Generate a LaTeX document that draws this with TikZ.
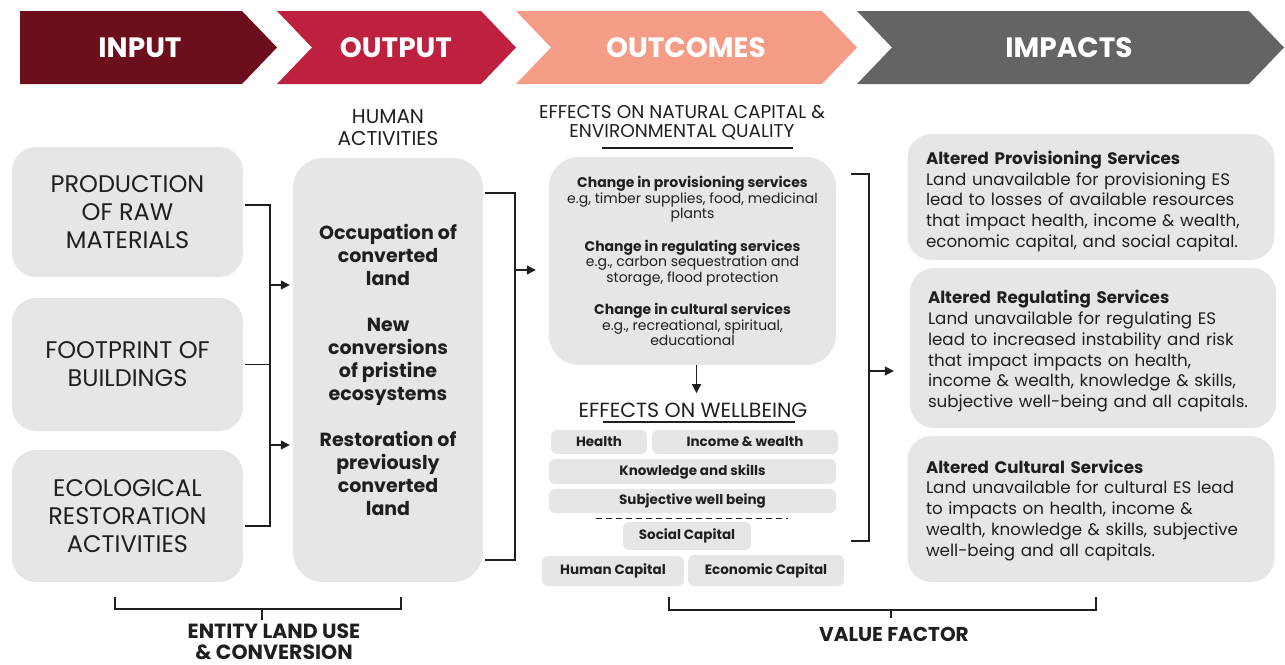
\documentclass[tikz,border=0pt]{standalone}
\usepackage{fontspec}
\setmainfont{Poppins}
\usetikzlibrary{arrows.meta}

\definecolor{inputred}{HTML}{6D0E1C}
\definecolor{outputred}{HTML}{BE2040}
\definecolor{outcomesalmon}{HTML}{F59C86}
\definecolor{impactgrey}{HTML}{636466}
\definecolor{panelgrey}{HTML}{E6E6E6}
\definecolor{ink}{HTML}{1F1F1F}

\tikzset{
    panel/.style={fill=panelgrey, rounded corners=24pt, inner sep=0pt,
        align=center, text=ink},
    impactpanel/.style={panel, text width=330pt, align=left,
        font=\fontsize{16.7}{20.8}\selectfont},
    tag/.style={fill=panelgrey, rounded corners=6pt, inner sep=0pt,
        text=ink, font=\bfseries\fontsize{13.5}{15}\selectfont},
    header/.style={text=white, font=\bfseries\fontsize{28}{32}\selectfont},
    caption/.style={align=center, text=ink},
    link/.style={draw=ink, line width=1.4pt},
    feed/.style={link, -{Triangle[length=9pt,width=9pt]}},
}

\begin{document}
\begin{tikzpicture}[x=1pt, y=-1pt]

    \useasboundingbox (0,0) rectangle (1285,664);

    % stage banner
    \fill[inputred] (20,11) -- (242,11) -- (277,47.5) -- (242,84) -- (20,84) -- cycle;
    \foreach \l/\r/\c in {277/481/outputred, 516/822/outcomesalmon, 857/1249/impactgrey}
        \fill[\c] (\l,11) -- (\r,11) -- (\r+35,47.5) -- (\r,84) -- (\l,84) -- (\l+35,47.5) -- cycle;

    \node[header] (hinput) at (140,47.5) {INPUT};
    \node[header] (houtput) at (396,47.5) {OUTPUT};
    \node[header] (houtcomes) at (686,47.5) {OUTCOMES};
    \node[header] (himpacts) at (1069,47.5) {IMPACTS};

    % inputs
    \node[panel, minimum width=231pt, minimum height=130pt,
        font=\fontsize{24}{28}\selectfont] (raw) at (127.5,212)
        {PRODUCTION\\OF RAW\\MATERIALS};
    \node[panel, minimum width=231pt, minimum height=133pt,
        font=\fontsize{24}{28}\selectfont] (footprint) at (127.5,364.5)
        {FOOTPRINT OF\\BUILDINGS};
    \node[panel, minimum width=231pt, minimum height=132pt,
        font=\fontsize{24}{28}\selectfont] (ecorestore) at (127.5,516)
        {ECOLOGICAL\\RESTORATION\\ACTIVITIES};

    % outputs
    \node[caption, font=\fontsize{20}{22}\selectfont] (human) at (388,128)
        {HUMAN\\ACTIVITIES};
    \node[panel, rounded corners=30pt, minimum width=190pt, minimum height=424pt,
        font=\bfseries\fontsize{19}{23}\selectfont] (activities) at (388,370)
        {Occupation of\\converted\\land\\[23pt]
         New\\conversions\\of pristine\\ecosystems\\[23pt]
         Restoration of\\previously\\converted\\land};

    % outcomes
    \node[caption, font=\fontsize{18.5}{19}\selectfont] (natcap) at (682,123)
        {EFFECTS ON NATURAL CAPITAL \&\\ENVIRONMENTAL QUALITY};
    \node[panel, rounded corners=30pt, minimum width=287pt, minimum height=208pt,
        font=\fontsize{14}{15.5}\selectfont] (natural) at (692.5,261)
        {\textbf{Change in provisioning services}\\
         e.g, timber supplies, food, medicinal\\plants\\[17pt]
         \textbf{Change in regulating services}\\
         e.g., carbon sequestration and\\storage, flood protection\\[17pt]
         \textbf{Change in cultural services}\\
         e.g., recreational, spiritual,\\educational};

    \node[caption, font=\fontsize{20.5}{22}\selectfont] (wbtitle) at (693,410)
        {EFFECTS ON WELLBEING};
    \node[tag, minimum width=96pt, minimum height=24pt] (health) at (599,442) {Health};
    \node[tag, minimum width=186pt, minimum height=24pt] (income) at (745,442) {Income \& wealth};
    \node[tag, minimum width=287pt, minimum height=25pt] (knowledge) at (692.5,471.5) {Knowledge and skills};
    \node[tag, minimum width=287pt, minimum height=24pt] (subjective) at (692.5,501) {Subjective well being};
    \node[tag, minimum width=128pt, minimum height=28pt] (social) at (687,536) {Social Capital};
    \node[tag, minimum width=142pt, minimum height=30pt] (humancap) at (613,571) {Human Capital};
    \node[tag, minimum width=156pt, minimum height=31pt] (economic) at (766,570.5) {Economic Capital};

    % impacts (the struts push each text block a little down)
    \node[impactpanel, minimum width=367pt, minimum height=126pt] (provimpact) at (1091,197)
        {\rule{0pt}{22pt}\textbf{Altered Provisioning Services}\\
         Land unavailable for provisioning ES\\
         lead to losses of available resources\\
         that impact health, income \& wealth,\\
         economic capital, and social capital.};
    \node[impactpanel, minimum width=366pt, minimum height=160pt] (regimpact) at (1093,348)
        {\rule{0pt}{20pt}\textbf{Altered Regulating Services}\\
         Land unavailable for regulating ES\\
         lead to increased instability and risk\\
         that impact impacts on health,\\
         income \& wealth, knowledge \& skills,\\
         subjective well-being and all capitals.};
    \node[impactpanel, minimum width=367pt, minimum height=146pt] (culimpact) at (1091,509)
        {\rule{0pt}{16pt}\textbf{Altered Cultural Services}\\
         Land unavailable for cultural ES lead\\
         to impacts on health, income \&\\
         wealth, knowledge \& skills, subjective\\
         well-being and all capitals.};

    % rules under the titles
    \draw[link] ([xshift=-80pt,yshift=-4pt]natcap.south) -- ([xshift=111pt,yshift=-4pt]natcap.south);
    \draw[link] ([xshift=-90pt,yshift=-1pt]wbtitle.south) -- ([xshift=102pt,yshift=-1pt]wbtitle.south);
    \draw[link, dashed, dash pattern=on 6pt off 4pt] ([xshift=-97pt,yshift=-5pt]subjective.south)
        -- ([xshift=95pt,yshift=-5pt]subjective.south);

    % inputs into activities
    \coordinate (inA) at (270,285);
    \coordinate (inB) at (270,445);
    \draw[link] ([xshift=2pt,yshift=7pt]raw.east) -| (inA) -- (inB)
        |- ([xshift=2pt,yshift=-10pt]ecorestore.east);
    \draw[link] ([xshift=2pt]footprint.east) -- (footprint.east -| inA);
    \draw[feed] (inA) -- ([xshift=-3pt]inA -| activities.west);
    \draw[feed] (inB) -- ([xshift=-3pt]inB -| activities.west);

    % activities into outcomes
    \coordinate (outtop) at (485,193);
    \coordinate (outbot) at (485,560);
    \coordinate (outmid) at (515,270);
    \draw[link] (outtop) -| (outmid) |- (outbot);
    \draw[feed] (outmid) -- ([xshift=-13pt]outmid -| natural.west);

    \draw[feed] ([xshift=4pt]natural.south) -- ([xshift=4pt,yshift=6pt]natural.south |- wbtitle.north);

    % outcomes into impacts
    \coordinate (oc top) at (851,174);
    \coordinate (oc bot) at (851,541);
    \coordinate (oc mid) at (869,371);
    \draw[link] (oc top) -| (oc mid) |- (oc bot);
    \draw[feed] (oc mid) -- ([xshift=-16pt]oc mid -| regimpact.west);

    % bottom brackets
    \node[caption, inner sep=1pt, font=\bfseries\fontsize{20.5}{21.5}\selectfont] (entity) at (274,642)
        {ENTITY LAND USE\\\& CONVERSION};
    \node[caption, font=\bfseries\fontsize{20}{22}\selectfont] (valuefactor) at (894,634)
        {VALUE FACTOR};
    \coordinate (entmid) at (262,609);
    \coordinate (valmid) at (891,610);
    \draw[link] (115,597) |- (entmid) -| (401,597);
    \draw[link] (entmid) -- (262,620);
    \draw[link] (669,597) |- (valmid) -| (1096,597);
    \draw[link] (valmid) -- (891,618);

\end{tikzpicture}
\end{document}
